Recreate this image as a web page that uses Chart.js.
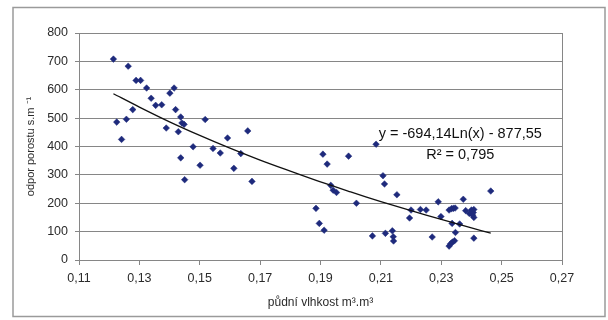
<!DOCTYPE html>
<html>
<head>
<meta charset="utf-8">
<script src="https://cdn.jsdelivr.net/npm/chart.js@4"></script>
<style>
  html, body { margin: 0; padding: 0; background: #fff; }
  #wrap { width: 608px; height: 320px; position: relative; }
</style>
</head>
<body>
<div id="wrap"><canvas id="chart" width="608" height="320"></canvas></div>
<script>
// soil moisture (m3.m-3) vs canopy resistance (s.m-1)
const moisture = [
  0.1214, 0.1225, 0.1241, 0.1257, 0.1263, 0.1278, 0.1289, 0.1304, 0.1324, 0.1339,
  0.1354, 0.1374, 0.1389, 0.1401, 0.1415, 0.1420, 0.1429, 0.1437, 0.1441, 0.1448,
  0.1437, 0.1450, 0.1478, 0.1501, 0.1518, 0.1544, 0.1568, 0.1592, 0.1613, 0.1636,
  0.1659, 0.1673,
  0.1885, 0.1896, 0.1908, 0.1912, 0.1922, 0.1934, 0.1942, 0.1953, 0.1993, 0.2019,
  0.2072, 0.2084, 0.2107, 0.2112, 0.2115, 0.2138, 0.2141, 0.2142, 0.2153,
  0.2195, 0.2200, 0.2231, 0.2250, 0.2270, 0.2290, 0.2299, 0.2326, 0.2334, 0.2340,
  0.2346, 0.2326, 0.2331, 0.2337, 0.2344, 0.2336, 0.2347, 0.2361, 0.2373, 0.2381,
  0.2393, 0.2400, 0.2404, 0.2406, 0.2408, 0.2408, 0.2408, 0.2464
];
const resistance = [
  708, 486, 425, 496, 683, 530, 633, 633, 606, 570,
  545, 547, 465, 588, 606, 530, 452, 504, 483, 478,
  360, 283, 399, 334, 495, 393, 377, 430, 323, 375,
  455, 277,
  182, 129, 373, 105, 338, 263, 246, 238, 366, 200,
  85, 408, 297, 268, 94, 103, 82, 67, 230,
  148, 176, 178, 176, 81, 205, 153, 176, 181, 182,
  183, 49, 57, 63, 68, 129, 97, 127, 214, 174,
  164, 176, 158, 167, 178, 150, 77, 243
];

// logarithmic trendline as drawn
const trendX = [0.1214, 0.13, 0.14, 0.15, 0.16, 0.17, 0.18, 0.19, 0.20, 0.21, 0.22, 0.23, 0.24, 0.2464];
const trendY = [586, 539, 487, 439, 394, 352, 313, 275, 240, 206, 174, 143, 113, 95];

const xTicks = [0.11, 0.13, 0.15, 0.17, 0.19, 0.21, 0.23, 0.25, 0.27];
const yTicks = [0, 100, 200, 300, 400, 500, 600, 700, 800];

const equationText = "y = -694,14Ln(x) - 877,55";
const r2Text = "R² = 0,795";

const gridColor = "#868686";
const textColor = "#2b2b2b";
const fontFamily = "'Liberation Sans', Arial, sans-serif";

const frame = {
  id: "frame",
  beforeDraw(chart) {
    const ctx = chart.ctx;
    ctx.save();
    ctx.fillStyle = "#fff";
    ctx.fillRect(0, 0, chart.width, chart.height);
    ctx.strokeStyle = "#9a9a9a";
    ctx.lineWidth = 1.5;
    ctx.strokeRect(13, 7.5, 592, 309);
    ctx.restore();
  },
  afterDraw(chart) {
    const { ctx, chartArea: a, scales } = chart;
    ctx.save();
    // plot area border on the right
    ctx.strokeStyle = gridColor;
    ctx.lineWidth = 1;
    ctx.beginPath();
    ctx.moveTo(Math.round(a.right) + 0.5, a.top);
    ctx.lineTo(Math.round(a.right) + 0.5, a.bottom);
    ctx.stroke();
    // trendline equation
    ctx.fillStyle = "#111";
    ctx.font = "14.5px " + fontFamily;
    ctx.textAlign = "center";
    ctx.textBaseline = "middle";
    const cx = scales.x.getPixelForValue(0.2363);
    ctx.fillText(equationText, cx, scales.y.getPixelForValue(443));
    ctx.fillText(r2Text, cx, scales.y.getPixelForValue(369));
    ctx.restore();
  }
};

new Chart(document.getElementById("chart"), {
  type: "scatter",
  plugins: [frame],
  data: {
    datasets: [
      {
        label: "odpor",
        data: moisture.map((x, i) => ({ x: x, y: resistance[i] })),
        pointStyle: "rectRot",
        pointRadius: 3.3,
        pointBorderWidth: 0.5,
        backgroundColor: "#1e2a7c",
        borderColor: "#1e2a7c",
        order: 2,
      },
      {
        label: "trend",
        type: "line",
        data: trendX.map((x, i) => ({ x: x, y: trendY[i] })),
        borderColor: "#111",
        borderWidth: 1.3,
        pointRadius: 0,
        tension: 0.3,
        fill: false,
        order: 1,
      },
    ],
  },
  options: {
    responsive: false,
    animation: false,
    layout: { padding: { top: 33, right: 46, left: 0, bottom: 0 } },
    plugins: {
      legend: { display: false },
      tooltip: { enabled: false },
    },
    scales: {
      x: {
        type: "linear",
        min: 0.11,
        max: 0.27,
        afterFit: (scale) => { scale.height = 60; },
        afterBuildTicks: (scale) => { scale.ticks = xTicks.map((v) => ({ value: v })); },
        grid: {
          drawOnChartArea: false,
          drawTicks: true,
          tickLength: 5,
          color: gridColor,
        },
        border: { color: gridColor, width: 1 },
        ticks: {
          padding: 6,
          color: textColor,
          font: { family: fontFamily, size: 12.5 },
          callback: (v) => v.toFixed(2).replace(".", ","),
        },
        title: {
          display: true,
          text: "půdní vlhkost m³.m³",
          color: textColor,
          font: { family: fontFamily, size: 12 },
          padding: { top: 0, bottom: 10 },
        },
      },
      y: {
        min: 0,
        max: 800,
        afterFit: (scale) => { scale.width = 79; },
        afterBuildTicks: (scale) => { scale.ticks = yTicks.map((v) => ({ value: v })); },
        grid: {
          drawTicks: true,
          tickLength: 4,
          color: gridColor,
        },
        border: { color: gridColor, width: 1 },
        ticks: {
          padding: 7,
          color: textColor,
          font: { family: fontFamily, size: 12.5 },
        },
        title: {
          display: true,
          text: "odpor porostu s.m ⁻¹",
          color: textColor,
          font: { family: fontFamily, size: 11 },
          padding: { top: 24, bottom: 0 },
        },
      },
    },
  },
});
</script>
</body>
</html>
